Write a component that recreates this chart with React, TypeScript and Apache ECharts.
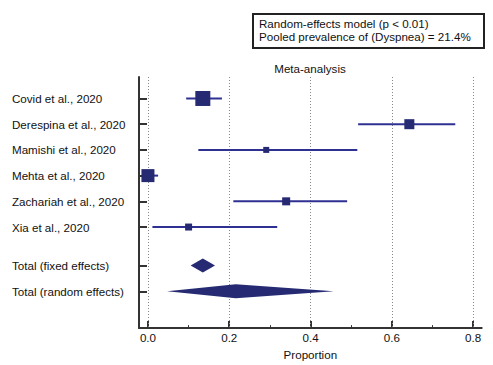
import React, { useEffect, useRef } from "react";
import * as echarts from "echarts";

// ---- data ----
const studies = [
  "Covid et al., 2020",
  "Derespina et al., 2020",
  "Mamishi et al., 2020",
  "Mehta et al., 2020",
  "Zachariah et al., 2020",
  "Xia et al., 2020",
];
const estimates = [0.135, 0.643, 0.291, 0.0, 0.34, 0.1];
const lower = [0.094, 0.517, 0.124, 0.0, 0.21, 0.011];
const upper = [0.182, 0.756, 0.515, 0.025, 0.49, 0.318];
const weights = [35.0, 15.6, 5.6, 26.3, 10.0, 7.6];
const rowPos = [1, 2, 3, 4, 5, 6];

const pooledNames = ["Total (fixed effects)", "Total (random effects)"];
const pooledEst = [0.135, 0.216];
const pooledLower = [0.105, 0.047];
const pooledUpper = [0.165, 0.457];
const pooledPos = [7.5, 8.5];

const majorTicks = [0, 0.2, 0.4, 0.6, 0.8];
const minorTicks = [0.1, 0.3, 0.5, 0.7];

const allPos = [...rowPos, ...pooledPos];
const allNames = [...studies, ...pooledNames];

const FONT = "'Liberation Sans', Arial, sans-serif";
const FS = 11.6;
const Y_MIN = 0.165;
const Y_MAX = 9.93;

export default function App() {
  const ref = useRef<HTMLDivElement>(null);
  useEffect(() => {
    if (!ref.current) return;
    const chart = echarts.init(ref.current, undefined, { renderer: "svg" });
    const sizeScale = 15 / Math.sqrt(weights[0]);

    const studyData = studies.map((_, i) => [lower[i], upper[i], estimates[i], rowPos[i], weights[i]]);
    const pooledData = pooledNames.map((_, i) => [pooledLower[i], pooledUpper[i], pooledEst[i], pooledPos[i]]);

    const minorTickLen = 3 / 26;

    chart.setOption({
      animation: false,
      grid: { left: 139, right: 11.3, top: 77, bottom: 34 },
      xAxis: {
        type: "value",
        min: -0.022,
        max: 0.821,
        axisLine: { show: true, onZero: false, lineStyle: { color: "#333", width: 2 } },
        axisTick: {
          show: true,
          inside: true,
          length: 7,
          customValues: majorTicks,
          lineStyle: { color: "#333", width: 2 },
        },
        axisLabel: {
          customValues: majorTicks,
          margin: 3,
          fontSize: FS,
          fontFamily: FONT,
          color: "#111",
          formatter: (v: number) => v.toFixed(1),
        },
        splitLine: { show: false },
        name: "Proportion",
        nameLocation: "middle",
        nameGap: 18,
        nameTextStyle: { fontSize: FS, fontFamily: FONT, color: "#111" },
      },
      yAxis: {
        type: "value",
        inverse: true,
        min: Y_MIN,
        max: Y_MAX,
        axisLine: { show: true, onZero: false, lineStyle: { color: "#333", width: 2 } },
        axisTick: {
          show: true,
          inside: true,
          length: 8,
          customValues: allPos,
          lineStyle: { color: "#333", width: 2 },
        },
        axisLabel: {
          customValues: allPos,
          align: "left",
          margin: 127,
          fontSize: FS,
          fontFamily: FONT,
          color: "#111",
          formatter: (v: number) => {
            const idx = allPos.findIndex((p) => Math.abs(p - v) < 1e-6);
            return idx >= 0 ? allNames[idx] : "";
          },
        },
        splitLine: { show: false },
      },
      graphic: [
        {
          type: "rect",
          shape: { x: 253, y: 14, width: 231, height: 34 },
          style: { fill: "#fff", stroke: "#222", lineWidth: 2 },
        },
        {
          type: "text",
          x: 259,
          y: 23.5,
          style: {
            text: "Random-effects model (p < 0.01)",
            fontSize: FS,
            fontFamily: FONT,
            fill: "#111",
            verticalAlign: "middle",
          },
        },
        {
          type: "text",
          x: 259,
          y: 36,
          style: {
            text: "Pooled prevalence of (Dyspnea) = 21.4%",
            fontSize: FS,
            fontFamily: FONT,
            fill: "#111",
            verticalAlign: "middle",
          },
        },
        {
          type: "text",
          x: 310,
          y: 68,
          style: {
            text: "Meta-analysis",
            fontSize: FS,
            fontFamily: FONT,
            fill: "#111",
            align: "center",
            verticalAlign: "middle",
          },
        },
      ],
      series: [
        {
          type: "line",
          data: [],
          z: 1,
          markLine: {
            silent: true,
            symbol: "none",
            label: { show: false },
            data: [
              ...majorTicks.map((v) => ({
                xAxis: v,
                lineStyle: { type: [1, 2], color: "#888", width: 1 },
              })),
              ...minorTicks.map((v) => [
                { coord: [v, Y_MAX], lineStyle: { type: "solid", color: "#333", width: 1 } },
                { coord: [v, Y_MAX - minorTickLen] },
              ]),
            ],
          },
        },
        {
          type: "custom",
          z: 5,
          data: studyData,
          renderItem: (params: any, api: any) => {
            const y = api.value(3);
            const lo = api.coord([api.value(0), y]);
            const hi = api.coord([api.value(1), y]);
            const c = api.coord([api.value(2), y]);
            const s = Math.sqrt(api.value(4)) * sizeScale;
            return {
              type: "group",
              children: [
                {
                  type: "line",
                  shape: { x1: lo[0], y1: lo[1], x2: hi[0], y2: hi[1] },
                  style: { stroke: "#2f3192", lineWidth: 2 },
                },
                {
                  type: "rect",
                  shape: { x: c[0] - s / 2, y: c[1] - s / 2, width: s, height: s },
                  style: { fill: "#262a72" },
                },
              ],
            };
          },
        },
        {
          type: "custom",
          z: 5,
          data: pooledData,
          renderItem: (params: any, api: any) => {
            const y = api.value(3);
            const lo = api.coord([api.value(0), y]);
            const hi = api.coord([api.value(1), y]);
            const c = api.coord([api.value(2), y]);
            const h = 7;
            return {
              type: "polygon",
              shape: {
                points: [
                  [lo[0], lo[1]],
                  [c[0], c[1] - h],
                  [hi[0], hi[1]],
                  [c[0], c[1] + h],
                ],
              },
              style: { fill: "#262a72" },
            };
          },
        },
      ],
    });
    return () => chart.dispose();
  }, []);
  return (
    <div
      ref={ref}
      style={{ position: "fixed", left: 0, top: 0, width: 493, height: 365, background: "#fff" }}
    />
  );
}
